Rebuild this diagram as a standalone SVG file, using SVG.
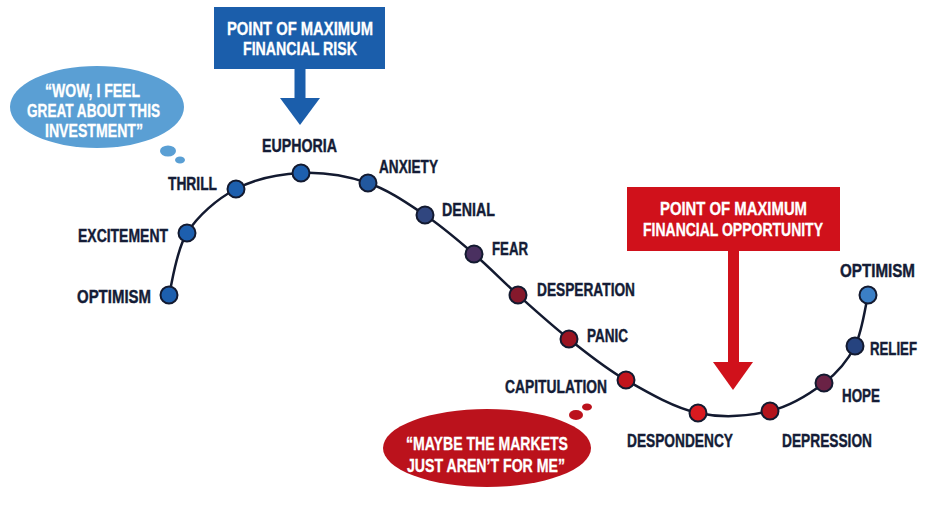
<svg xmlns="http://www.w3.org/2000/svg" width="930" height="508" viewBox="0 0 930 508">
<style>
.lbl{font-family:"Liberation Sans",Arial,sans-serif;font-weight:bold;font-size:17.5px;fill:#141c36;stroke:#141c36;stroke-width:0.4}
.wt{font-family:"Liberation Sans",Arial,sans-serif;font-weight:bold;font-size:17.5px;fill:#ffffff;stroke:#ffffff;stroke-width:0.3}
.nd{stroke:#131a30;stroke-width:2}
</style>
<rect width="930" height="508" fill="#ffffff"/>
<g id="bubble-blue">
<ellipse cx="97" cy="107" rx="87" ry="41" fill="#5a9fd4"/>
<ellipse cx="168" cy="151" rx="8" ry="5.5" fill="#5a9fd4"/>
<ellipse cx="180" cy="160" rx="5" ry="3.5" fill="#5a9fd4"/>
<text class="wt" x="45" y="97" textLength="95" lengthAdjust="spacingAndGlyphs">“WOW, I FEEL</text>
<text class="wt" x="27" y="117" textLength="133" lengthAdjust="spacingAndGlyphs">GREAT ABOUT THIS</text>
<text class="wt" x="45" y="137" textLength="98" lengthAdjust="spacingAndGlyphs">INVESTMENT”</text>
</g>
<g id="risk-box">
<rect x="214" y="7" width="171" height="62" fill="#1b5eab"/>
<rect x="294.5" y="68" width="11" height="31" fill="#1b5eab"/>
<polygon points="280,98 320,98 300,125" fill="#1b5eab"/>
<text class="wt" x="227" y="35" textLength="146" lengthAdjust="spacingAndGlyphs">POINT OF MAXIMUM</text>
<text class="wt" x="243" y="55" textLength="114" lengthAdjust="spacingAndGlyphs">FINANCIAL RISK</text>
</g>
<g id="opportunity-box">
<rect x="627" y="187" width="213" height="64" fill="#d0111b"/>
<rect x="728" y="250" width="11" height="113" fill="#d0111b"/>
<polygon points="713,362 753,362 733,390" fill="#d0111b"/>
<text class="wt" x="660" y="215" textLength="147" lengthAdjust="spacingAndGlyphs">POINT OF MAXIMUM</text>
<text class="wt" x="643" y="236" textLength="180" lengthAdjust="spacingAndGlyphs">FINANCIAL OPPORTUNITY</text>
</g>
<g id="bubble-red">
<ellipse cx="487" cy="448" rx="104" ry="39" fill="#bb121c"/>
<ellipse cx="576" cy="415" rx="7" ry="5" fill="#bb121c"/>
<ellipse cx="587" cy="407" rx="5" ry="3.5" fill="#bb121c"/>
<text class="wt" x="406" y="450" textLength="162" lengthAdjust="spacingAndGlyphs">“MAYBE THE MARKETS</text>
<text class="wt" x="407" y="472" textLength="158" lengthAdjust="spacingAndGlyphs">JUST AREN’T FOR ME”</text>
</g>
<g id="connectors">
<path d="M169,295 C172,284.7 175.8,250.7 187,233 C198.2,215.3 217,199 236,189 C255,179 279,174 301,173 C323,172 347.3,176 368,183 C388.7,190 407.3,203.2 425,215 C442.7,226.8 458.5,240.7 474,254 C489.5,267.3 502.2,280.8 518,295 C533.8,309.2 551,324.8 569,339 C587,353.2 604.5,367.7 626,380 C647.5,392.3 674,407.8 698,413 C722,418.2 749,416 770,411 C791,406 809.8,393.8 824,383 C838.2,372.2 847.7,360.7 855,346 C862.3,331.3 865.8,303.5 868,295" fill="none" stroke="#131a30" stroke-width="2.5"/>
</g>
<g id="n-optimism-1"><circle class="nd" cx="169" cy="295" r="8.5" fill="#1d5fae"/><text class="lbl" x="77" y="303" textLength="74" lengthAdjust="spacingAndGlyphs">OPTIMISM</text></g>
<g id="n-excitement"><circle class="nd" cx="187" cy="233" r="8.5" fill="#1d5fae"/><text class="lbl" x="78" y="242" textLength="90" lengthAdjust="spacingAndGlyphs">EXCITEMENT</text></g>
<g id="n-thrill"><circle class="nd" cx="236" cy="189" r="8.5" fill="#1d5fae"/><text class="lbl" x="168" y="190" textLength="49" lengthAdjust="spacingAndGlyphs">THRILL</text></g>
<g id="n-euphoria"><circle class="nd" cx="301" cy="173" r="8.5" fill="#1d5fae"/><text class="lbl" x="262" y="152" textLength="75" lengthAdjust="spacingAndGlyphs">EUPHORIA</text></g>
<g id="n-anxiety"><circle class="nd" cx="368" cy="183" r="8.5" fill="#22589e"/><text class="lbl" x="379" y="173" textLength="59" lengthAdjust="spacingAndGlyphs">ANXIETY</text></g>
<g id="n-denial"><circle class="nd" cx="425" cy="215" r="8.5" fill="#30467f"/><text class="lbl" x="442" y="216" textLength="53" lengthAdjust="spacingAndGlyphs">DENIAL</text></g>
<g id="n-fear"><circle class="nd" cx="474" cy="254" r="8.5" fill="#4a3060"/><text class="lbl" x="492" y="255" textLength="36" lengthAdjust="spacingAndGlyphs">FEAR</text></g>
<g id="n-desperation"><circle class="nd" cx="518" cy="295" r="8.5" fill="#85192c"/><text class="lbl" x="537" y="296" textLength="98" lengthAdjust="spacingAndGlyphs">DESPERATION</text></g>
<g id="n-panic"><circle class="nd" cx="569" cy="339" r="8.5" fill="#9a1422"/><text class="lbl" x="587" y="342" textLength="41" lengthAdjust="spacingAndGlyphs">PANIC</text></g>
<g id="n-capitulation"><circle class="nd" cx="626" cy="380" r="8.5" fill="#c3141d"/><text class="lbl" x="505" y="393" textLength="102" lengthAdjust="spacingAndGlyphs">CAPITULATION</text></g>
<g id="n-despondency"><circle class="nd" cx="698" cy="413" r="8.5" fill="#da1a20"/><text class="lbl" x="627" y="447" textLength="106" lengthAdjust="spacingAndGlyphs">DESPONDENCY</text></g>
<g id="n-depression"><circle class="nd" cx="770" cy="411" r="8.5" fill="#b3141d"/><text class="lbl" x="782" y="447" textLength="90" lengthAdjust="spacingAndGlyphs">DEPRESSION</text></g>
<g id="n-hope"><circle class="nd" cx="824" cy="383" r="8.5" fill="#6a2245"/><text class="lbl" x="842" y="402" textLength="38" lengthAdjust="spacingAndGlyphs">HOPE</text></g>
<g id="n-relief"><circle class="nd" cx="855" cy="346" r="8.5" fill="#26437f"/><text class="lbl" x="870" y="355" textLength="47" lengthAdjust="spacingAndGlyphs">RELIEF</text></g>
<g id="n-optimism-2"><circle class="nd" cx="868" cy="295" r="8.5" fill="#3b7fc6"/><text class="lbl" x="840" y="277" textLength="75" lengthAdjust="spacingAndGlyphs">OPTIMISM</text></g>
</svg>
